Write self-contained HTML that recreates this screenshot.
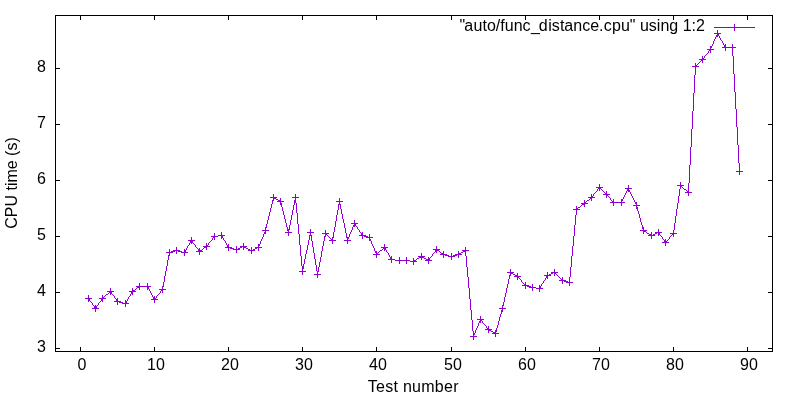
<!DOCTYPE html><html><head><meta charset="utf-8"><title>gnuplot</title><style>
html,body{margin:0;padding:0;background:#fff;}
svg{display:block;position:absolute;left:0;top:0;will-change:transform;}
text{font-family:"Liberation Sans",sans-serif;font-size:16px;fill:#000;}
</style></head><body>
<svg width="800" height="400" viewBox="0 0 800 400">
<g stroke="#000" stroke-width="1" fill="none" shape-rendering="crispEdges">
<rect x="55.5" y="15.5" width="717" height="336"/>
<line x1="80.5" y1="347" x2="80.5" y2="352"/>
<line x1="80.5" y1="15" x2="80.5" y2="20"/>
<line x1="154.5" y1="347" x2="154.5" y2="352"/>
<line x1="154.5" y1="15" x2="154.5" y2="20"/>
<line x1="228.5" y1="347" x2="228.5" y2="352"/>
<line x1="228.5" y1="15" x2="228.5" y2="20"/>
<line x1="302.5" y1="347" x2="302.5" y2="352"/>
<line x1="302.5" y1="15" x2="302.5" y2="20"/>
<line x1="376.5" y1="347" x2="376.5" y2="352"/>
<line x1="376.5" y1="15" x2="376.5" y2="20"/>
<line x1="451.5" y1="347" x2="451.5" y2="352"/>
<line x1="451.5" y1="15" x2="451.5" y2="20"/>
<line x1="525.5" y1="347" x2="525.5" y2="352"/>
<line x1="525.5" y1="15" x2="525.5" y2="20"/>
<line x1="599.5" y1="347" x2="599.5" y2="352"/>
<line x1="599.5" y1="15" x2="599.5" y2="20"/>
<line x1="673.5" y1="347" x2="673.5" y2="352"/>
<line x1="673.5" y1="15" x2="673.5" y2="20"/>
<line x1="747.5" y1="347" x2="747.5" y2="352"/>
<line x1="747.5" y1="15" x2="747.5" y2="20"/>
<line x1="55" y1="348.5" x2="60" y2="348.5"/>
<line x1="768" y1="348.5" x2="773" y2="348.5"/>
<line x1="55" y1="292.5" x2="60" y2="292.5"/>
<line x1="768" y1="292.5" x2="773" y2="292.5"/>
<line x1="55" y1="236.5" x2="60" y2="236.5"/>
<line x1="768" y1="236.5" x2="773" y2="236.5"/>
<line x1="55" y1="180.5" x2="60" y2="180.5"/>
<line x1="768" y1="180.5" x2="773" y2="180.5"/>
<line x1="55" y1="124.5" x2="60" y2="124.5"/>
<line x1="768" y1="124.5" x2="773" y2="124.5"/>
<line x1="55" y1="68.5" x2="60" y2="68.5"/>
<line x1="768" y1="68.5" x2="773" y2="68.5"/>
</g>
<text x="46" y="352" text-anchor="end">3</text>
<text x="46" y="296" text-anchor="end">4</text>
<text x="46" y="240" text-anchor="end">5</text>
<text x="46" y="184" text-anchor="end">6</text>
<text x="46" y="128" text-anchor="end">7</text>
<text x="46" y="72" text-anchor="end">8</text>
<text x="82.0" y="370" text-anchor="middle">0</text>
<text x="156.0" y="370" text-anchor="middle">10</text>
<text x="230.0" y="370" text-anchor="middle">20</text>
<text x="304.0" y="370" text-anchor="middle">30</text>
<text x="378.0" y="370" text-anchor="middle">40</text>
<text x="453.0" y="370" text-anchor="middle">50</text>
<text x="527.0" y="370" text-anchor="middle">60</text>
<text x="601.0" y="370" text-anchor="middle">70</text>
<text x="675.0" y="370" text-anchor="middle">80</text>
<text x="749.0" y="370" text-anchor="middle">90</text>
<text x="413.3" y="392" text-anchor="middle" style="letter-spacing:0.27px">Test number</text>
<text transform="translate(17,183) rotate(-90)" text-anchor="middle">CPU time (s)</text>
<text x="704.9" y="31" text-anchor="end" dx="0 -1 0.5 0 0 0 0 0 0 0 0.5 -1.2 0.5 0 0.2 0 0 0 0 0 0.3 0.2">"auto/func_distance.cpu" using 1:2</text>
<path fill="#9400d3" stroke="none" shape-rendering="crispEdges" d="M88,295h1v7h-1zM89,298h1v3h-1zM92,303h1v2h-1zM94,306h1v3h-1zM95,305h1v7h-1zM96,306h1v3h-1zM98,303h1v2h-1zM101,298h1v3h-1zM102,295h1v7h-1zM103,297h1v2h-1zM109,291h1v2h-1zM110,288h1v7h-1zM111,291h1v3h-1zM114,296h1v2h-1zM116,299h1v3h-1zM117,298h1v7h-1zM119,301h1v2h-1zM120,301h1v2h-1zM122,302h1v2h-1zM125,300h1v7h-1zM126,301h1v3h-1zM127,299h1v2h-1zM128,297h1v2h-1zM130,294h1v2h-1zM131,291h1v3h-1zM132,288h1v7h-1zM133,290h1v2h-1zM134,290h1v2h-1zM137,286h1v2h-1zM138,286h1v2h-1zM139,283h1v7h-1zM147,283h1v7h-1zM148,286h1v3h-1zM149,289h1v2h-1zM150,291h1v2h-1zM151,293h1v2h-1zM152,295h1v2h-1zM153,297h1v3h-1zM154,296h1v7h-1zM155,298h1v2h-1zM156,296h1v2h-1zM160,291h1v2h-1zM161,289h1v2h-1zM162,286h1v7h-1zM163,282h1v5h-1zM164,276h1v6h-1zM165,271h1v5h-1zM166,266h1v5h-1zM167,260h1v6h-1zM168,255h1v5h-1zM169,249h1v7h-1zM171,251h1v2h-1zM172,251h1v2h-1zM173,250h1v2h-1zM174,250h1v2h-1zM176,247h1v7h-1zM178,250h1v2h-1zM179,250h1v2h-1zM181,251h1v2h-1zM184,249h1v7h-1zM185,250h1v3h-1zM186,248h1v2h-1zM187,246h1v2h-1zM189,243h1v2h-1zM190,240h1v3h-1zM191,237h1v7h-1zM192,240h1v3h-1zM195,245h1v2h-1zM198,249h1v3h-1zM199,248h1v7h-1zM200,250h1v2h-1zM201,250h1v2h-1zM204,246h1v2h-1zM205,246h1v2h-1zM206,243h1v7h-1zM207,245h1v2h-1zM208,243h1v2h-1zM212,238h1v2h-1zM213,236h1v2h-1zM214,233h1v7h-1zM221,232h1v7h-1zM222,235h1v3h-1zM223,238h1v2h-1zM225,241h1v2h-1zM226,243h1v2h-1zM227,245h1v3h-1zM228,244h1v7h-1zM230,247h1v2h-1zM231,247h1v2h-1zM233,248h1v2h-1zM236,246h1v7h-1zM238,248h1v2h-1zM239,248h1v2h-1zM240,246h1v2h-1zM241,246h1v2h-1zM243,243h1v7h-1zM244,246h1v2h-1zM245,246h1v2h-1zM248,249h1v2h-1zM249,249h1v2h-1zM251,247h1v7h-1zM253,249h1v2h-1zM254,249h1v2h-1zM255,247h1v2h-1zM256,247h1v2h-1zM258,244h1v7h-1zM259,244h1v2h-1zM260,241h1v3h-1zM261,239h1v2h-1zM262,237h1v2h-1zM263,234h1v3h-1zM264,232h1v2h-1zM265,227h1v7h-1zM266,224h1v4h-1zM267,220h1v4h-1zM268,216h1v4h-1zM269,212h1v4h-1zM270,208h1v4h-1zM271,204h1v4h-1zM272,200h1v4h-1zM273,194h1v7h-1zM274,197h1v2h-1zM275,197h1v2h-1zM278,200h1v2h-1zM279,200h1v2h-1zM280,198h1v7h-1zM281,203h1v4h-1zM282,207h1v4h-1zM283,211h1v4h-1zM284,215h1v4h-1zM285,219h1v4h-1zM286,223h1v4h-1zM287,227h1v4h-1zM288,229h1v7h-1zM289,225h1v5h-1zM290,220h1v5h-1zM291,215h1v5h-1zM292,210h1v5h-1zM293,205h1v5h-1zM294,200h1v5h-1zM295,194h1v9h-1zM296,203h1v10h-1zM297,213h1v11h-1zM298,224h1v10h-1zM299,234h1v11h-1zM300,245h1v11h-1zM301,256h1v10h-1zM302,266h1v9h-1zM303,264h1v5h-1zM304,259h1v5h-1zM305,254h1v5h-1zM306,250h1v4h-1zM307,245h1v5h-1zM308,240h1v5h-1zM309,235h1v5h-1zM310,229h1v7h-1zM311,235h1v6h-1zM312,241h1v6h-1zM313,247h1v6h-1zM314,253h1v6h-1zM315,259h1v6h-1zM316,265h1v6h-1zM317,271h1v7h-1zM318,267h1v5h-1zM319,262h1v5h-1zM320,257h1v5h-1zM321,251h1v6h-1zM322,246h1v5h-1zM323,241h1v5h-1zM324,236h1v5h-1zM325,230h1v7h-1zM326,233h1v2h-1zM331,239h1v2h-1zM332,237h1v7h-1zM333,232h1v6h-1zM334,227h1v5h-1zM335,221h1v6h-1zM336,215h1v6h-1zM337,210h1v5h-1zM338,204h1v6h-1zM339,198h1v7h-1zM340,204h1v5h-1zM341,209h1v5h-1zM342,214h1v5h-1zM343,219h1v4h-1zM344,223h1v5h-1zM345,228h1v5h-1zM346,233h1v5h-1zM347,237h1v7h-1zM348,237h1v2h-1zM349,234h1v3h-1zM350,232h1v2h-1zM351,230h1v2h-1zM352,227h1v3h-1zM353,225h1v2h-1zM354,220h1v7h-1zM355,223h1v3h-1zM357,227h1v2h-1zM359,230h1v2h-1zM361,233h1v3h-1zM362,232h1v7h-1zM364,235h1v2h-1zM365,235h1v2h-1zM366,236h1v2h-1zM367,236h1v2h-1zM369,234h1v7h-1zM370,239h1v2h-1zM371,241h1v3h-1zM372,244h1v2h-1zM373,246h1v2h-1zM374,248h1v3h-1zM375,251h1v2h-1zM376,251h1v7h-1zM377,253h1v2h-1zM383,247h1v2h-1zM384,244h1v7h-1zM385,247h1v3h-1zM386,250h1v2h-1zM388,253h1v2h-1zM389,255h1v2h-1zM390,257h1v3h-1zM391,256h1v7h-1zM399,257h1v7h-1zM406,257h1v7h-1zM413,258h1v7h-1zM414,260h1v2h-1zM415,260h1v2h-1zM419,256h1v2h-1zM420,256h1v2h-1zM421,253h1v7h-1zM422,256h1v2h-1zM423,256h1v2h-1zM426,259h1v2h-1zM427,259h1v2h-1zM428,257h1v7h-1zM429,258h1v3h-1zM432,254h1v2h-1zM435,249h1v3h-1zM436,246h1v7h-1zM437,249h1v2h-1zM438,249h1v2h-1zM441,253h1v2h-1zM442,253h1v2h-1zM443,251h1v7h-1zM445,254h1v2h-1zM446,254h1v2h-1zM448,255h1v2h-1zM451,253h1v7h-1zM453,255h1v2h-1zM454,255h1v2h-1zM455,254h1v2h-1zM456,254h1v2h-1zM458,251h1v7h-1zM459,253h1v2h-1zM460,253h1v2h-1zM463,250h1v2h-1zM464,250h1v2h-1zM465,247h1v9h-1zM466,256h1v11h-1zM467,267h1v10h-1zM468,277h1v11h-1zM469,288h1v11h-1zM470,299h1v11h-1zM471,310h1v10h-1zM472,320h1v11h-1zM473,331h1v9h-1zM474,333h1v2h-1zM475,330h1v3h-1zM476,328h1v2h-1zM477,326h1v2h-1zM478,323h1v3h-1zM479,321h1v2h-1zM480,316h1v7h-1zM481,319h1v2h-1zM482,321h1v2h-1zM486,326h1v2h-1zM487,328h1v2h-1zM488,326h1v7h-1zM489,329h1v2h-1zM490,329h1v2h-1zM493,332h1v2h-1zM494,332h1v2h-1zM495,330h1v7h-1zM496,328h1v4h-1zM497,325h1v3h-1zM498,321h1v4h-1zM499,317h1v4h-1zM500,314h1v3h-1zM501,310h1v4h-1zM502,305h1v7h-1zM503,302h1v4h-1zM504,297h1v5h-1zM505,293h1v4h-1zM506,288h1v5h-1zM507,284h1v4h-1zM508,279h1v5h-1zM509,275h1v4h-1zM510,269h1v7h-1zM511,272h1v2h-1zM512,272h1v2h-1zM515,275h1v2h-1zM516,275h1v2h-1zM517,273h1v7h-1zM518,276h1v2h-1zM521,280h1v2h-1zM524,284h1v2h-1zM525,282h1v7h-1zM527,285h1v2h-1zM528,285h1v2h-1zM529,286h1v2h-1zM530,286h1v2h-1zM532,284h1v7h-1zM539,285h1v7h-1zM540,286h1v3h-1zM541,284h1v2h-1zM543,281h1v2h-1zM545,278h1v2h-1zM546,275h1v3h-1zM547,272h1v7h-1zM549,274h1v2h-1zM550,274h1v2h-1zM551,272h1v2h-1zM552,272h1v2h-1zM554,269h1v7h-1zM555,272h1v2h-1zM561,279h1v2h-1zM562,277h1v7h-1zM564,280h1v2h-1zM565,280h1v2h-1zM566,281h1v2h-1zM567,281h1v2h-1zM569,277h1v9h-1zM570,267h1v10h-1zM571,256h1v11h-1zM572,246h1v10h-1zM573,236h1v10h-1zM574,225h1v11h-1zM575,215h1v10h-1zM576,206h1v9h-1zM577,208h1v2h-1zM582,203h1v2h-1zM583,203h1v2h-1zM584,200h1v7h-1zM585,202h1v2h-1zM590,197h1v2h-1zM591,194h1v7h-1zM592,196h1v2h-1zM593,194h1v2h-1zM597,189h1v2h-1zM598,187h1v2h-1zM599,184h1v7h-1zM600,187h1v2h-1zM605,193h1v2h-1zM606,191h1v7h-1zM607,194h1v2h-1zM610,198h1v2h-1zM612,201h1v2h-1zM613,199h1v7h-1zM621,199h1v7h-1zM622,199h1v2h-1zM623,197h1v2h-1zM624,195h1v2h-1zM625,193h1v2h-1zM626,191h1v2h-1zM627,188h1v3h-1zM628,185h1v7h-1zM629,190h1v2h-1zM630,192h1v2h-1zM631,194h1v2h-1zM632,196h1v2h-1zM633,198h1v2h-1zM634,200h1v2h-1zM635,202h1v2h-1zM636,202h1v7h-1zM637,207h1v4h-1zM638,211h1v3h-1zM639,214h1v4h-1zM640,218h1v4h-1zM641,222h1v3h-1zM642,225h1v4h-1zM643,227h1v7h-1zM644,230h1v2h-1zM645,230h1v2h-1zM649,234h1v2h-1zM650,234h1v2h-1zM651,232h1v7h-1zM653,234h1v2h-1zM654,234h1v2h-1zM655,232h1v2h-1zM656,232h1v2h-1zM658,229h1v7h-1zM659,232h1v3h-1zM662,237h1v2h-1zM664,240h1v3h-1zM665,239h1v7h-1zM666,241h1v2h-1zM669,237h1v2h-1zM672,233h1v2h-1zM673,230h1v7h-1zM674,223h1v7h-1zM675,216h1v7h-1zM676,209h1v7h-1zM677,203h1v6h-1zM678,196h1v7h-1zM679,189h1v7h-1zM680,182h1v7h-1zM681,185h1v2h-1zM687,191h1v2h-1zM688,183h1v13h-1zM689,165h1v18h-1zM690,147h1v18h-1zM691,129h1v18h-1zM692,111h1v18h-1zM693,93h1v18h-1zM694,75h1v18h-1zM695,63h1v12h-1zM696,65h1v2h-1zM701,59h1v2h-1zM702,56h1v7h-1zM703,58h1v2h-1zM704,56h1v2h-1zM708,51h1v2h-1zM709,49h1v2h-1zM710,46h1v7h-1zM711,46h1v2h-1zM712,44h1v2h-1zM713,41h1v3h-1zM714,39h1v2h-1zM715,37h1v2h-1zM716,35h1v2h-1zM717,30h1v7h-1zM718,33h1v3h-1zM719,36h1v2h-1zM720,38h1v2h-1zM722,41h1v2h-1zM723,43h1v2h-1zM724,45h1v3h-1zM725,44h1v7h-1zM732,44h1v12h-1zM733,56h1v18h-1zM734,24h1v7h-1zM734,74h1v18h-1zM735,92h1v17h-1zM736,109h1v18h-1zM737,127h1v18h-1zM738,145h1v18h-1zM739,163h1v12h-1zM714,27h20v1h-20zM735,27h20v1h-20zM714,33h3v1h-3zM719,33h2v1h-2zM721,40h1v1h-1zM722,47h2v1h-2zM726,47h6v1h-6zM733,47h3v1h-3zM707,49h2v1h-2zM711,49h3v1h-3zM707,53h1v1h-1zM706,54h1v1h-1zM705,55h1v1h-1zM699,59h2v1h-2zM704,59h2v1h-2zM700,61h1v1h-1zM699,62h1v1h-1zM698,63h1v1h-1zM697,64h1v1h-1zM692,66h3v1h-3zM697,66h2v1h-2zM736,171h3v1h-3zM740,171h3v1h-3zM677,185h3v1h-3zM682,185h2v1h-2zM596,187h2v1h-2zM601,187h2v1h-2zM682,187h1v1h-1zM625,188h2v1h-2zM629,188h3v1h-3zM683,188h1v1h-1zM601,189h1v1h-1zM684,189h2v1h-2zM602,190h1v1h-1zM686,190h1v1h-1zM596,191h1v1h-1zM603,191h1v1h-1zM595,192h1v1h-1zM604,192h1v1h-1zM685,192h2v1h-2zM689,192h3v1h-3zM594,193h1v1h-1zM603,194h2v1h-2zM608,194h2v1h-2zM608,196h1v1h-1zM270,197h3v1h-3zM276,197h1v1h-1zM292,197h3v1h-3zM296,197h3v1h-3zM588,197h2v1h-2zM593,197h2v1h-2zM609,197h1v1h-1zM276,199h2v1h-2zM589,199h1v1h-1zM587,200h2v1h-2zM611,200h1v1h-1zM277,201h1v1h-1zM281,201h3v1h-3zM336,201h3v1h-3zM340,201h3v1h-3zM586,201h1v1h-1zM610,202h2v1h-2zM614,202h7v1h-7zM622,202h3v1h-3zM581,203h1v1h-1zM586,203h2v1h-2zM581,205h1v1h-1zM633,205h3v1h-3zM637,205h3v1h-3zM580,206h1v1h-1zM578,207h2v1h-2zM573,209h3v1h-3zM578,209h2v1h-2zM351,223h3v1h-3zM356,223h2v1h-2zM356,226h1v1h-1zM358,229h1v1h-1zM262,230h3v1h-3zM266,230h3v1h-3zM640,230h3v1h-3zM646,230h1v1h-1zM285,232h3v1h-3zM289,232h3v1h-3zM307,232h3v1h-3zM311,232h3v1h-3zM360,232h1v1h-1zM646,232h1v1h-1zM657,232h1v1h-1zM660,232h2v1h-2zM322,233h3v1h-3zM327,233h2v1h-2zM647,233h2v1h-2zM670,233h2v1h-2zM674,233h3v1h-3zM218,235h3v1h-3zM223,235h2v1h-2zM327,235h1v1h-1zM359,235h2v1h-2zM363,235h1v1h-1zM648,235h1v1h-1zM652,235h1v1h-1zM660,235h1v1h-1zM671,235h1v1h-1zM211,236h2v1h-2zM215,236h3v1h-3zM328,236h1v1h-1zM661,236h1v1h-1zM670,236h1v1h-1zM329,237h1v1h-1zM368,237h1v1h-1zM370,237h3v1h-3zM330,238h1v1h-1zM663,239h1v1h-1zM668,239h1v1h-1zM188,240h2v1h-2zM193,240h2v1h-2zM211,240h1v1h-1zM224,240h1v1h-1zM329,240h2v1h-2zM333,240h3v1h-3zM344,240h3v1h-3zM348,240h3v1h-3zM667,240h1v1h-1zM210,241h1v1h-1zM209,242h1v1h-1zM662,242h2v1h-2zM667,242h2v1h-2zM193,243h1v1h-1zM194,244h1v1h-1zM188,245h1v1h-1zM203,246h1v1h-1zM208,246h2v1h-2zM242,246h1v1h-1zM246,246h1v1h-1zM196,247h1v1h-1zM225,247h2v1h-2zM229,247h1v1h-1zM257,247h1v1h-1zM259,247h3v1h-3zM381,247h2v1h-2zM386,247h2v1h-2zM197,248h1v1h-1zM203,248h1v1h-1zM232,248h1v1h-1zM246,248h2v1h-2zM202,249h1v1h-1zM234,249h2v1h-2zM237,249h1v1h-1zM382,249h1v1h-1zM433,249h2v1h-2zM439,249h1v1h-1zM175,250h1v1h-1zM177,250h1v1h-1zM250,250h1v1h-1zM252,250h1v1h-1zM380,250h2v1h-2zM462,250h1v1h-1zM466,250h3v1h-3zM180,251h1v1h-1zM196,251h2v1h-2zM202,251h1v1h-1zM379,251h1v1h-1zM439,251h1v1h-1zM166,252h3v1h-3zM170,252h1v1h-1zM182,252h2v1h-2zM186,252h2v1h-2zM378,252h1v1h-1zM387,252h1v1h-1zM434,252h1v1h-1zM440,252h1v1h-1zM461,252h2v1h-2zM433,253h1v1h-1zM373,254h3v1h-3zM378,254h2v1h-2zM440,254h1v1h-1zM444,254h1v1h-1zM457,254h1v1h-1zM461,254h1v1h-1zM447,255h1v1h-1zM418,256h1v1h-1zM424,256h1v1h-1zM431,256h1v1h-1zM449,256h2v1h-2zM452,256h1v1h-1zM430,257h1v1h-1zM417,258h2v1h-2zM424,258h2v1h-2zM388,259h2v1h-2zM392,259h3v1h-3zM416,259h1v1h-1zM395,260h4v1h-4zM400,260h6v1h-6zM407,260h3v1h-3zM425,260h1v1h-1zM430,260h2v1h-2zM410,261h3v1h-3zM416,261h1v1h-1zM299,271h3v1h-3zM303,271h3v1h-3zM507,272h3v1h-3zM513,272h1v1h-1zM553,272h1v1h-1zM556,272h2v1h-2zM314,274h3v1h-3zM318,274h3v1h-3zM513,274h2v1h-2zM556,274h1v1h-1zM544,275h2v1h-2zM548,275h1v1h-1zM557,275h1v1h-1zM514,276h1v1h-1zM519,276h2v1h-2zM558,276h1v1h-1zM559,277h1v1h-1zM519,278h1v1h-1zM560,278h1v1h-1zM520,279h1v1h-1zM544,280h1v1h-1zM559,280h2v1h-2zM563,280h1v1h-1zM522,282h1v1h-1zM568,282h1v1h-1zM570,282h3v1h-3zM523,283h1v1h-1zM542,283h1v1h-1zM522,285h2v1h-2zM526,285h1v1h-1zM136,286h1v1h-1zM140,286h7v1h-7zM149,286h2v1h-2zM531,287h1v1h-1zM533,287h3v1h-3zM136,288h1v1h-1zM536,288h3v1h-3zM541,288h2v1h-2zM135,289h1v1h-1zM159,289h2v1h-2zM163,289h3v1h-3zM107,291h2v1h-2zM112,291h2v1h-2zM129,291h2v1h-2zM135,291h1v1h-1zM108,293h1v1h-1zM159,293h1v1h-1zM106,294h2v1h-2zM112,294h1v1h-1zM158,294h1v1h-1zM105,295h1v1h-1zM113,295h1v1h-1zM157,295h1v1h-1zM104,296h1v1h-1zM129,296h1v1h-1zM85,298h3v1h-3zM90,298h2v1h-2zM99,298h2v1h-2zM104,298h2v1h-2zM115,298h1v1h-1zM151,299h2v1h-2zM156,299h2v1h-2zM90,301h1v1h-1zM100,301h1v1h-1zM114,301h2v1h-2zM118,301h1v1h-1zM91,302h1v1h-1zM99,302h1v1h-1zM121,302h1v1h-1zM123,303h2v1h-2zM127,303h2v1h-2zM93,305h1v1h-1zM97,305h1v1h-1zM92,308h2v1h-2zM97,308h2v1h-2zM499,308h3v1h-3zM503,308h3v1h-3zM477,319h3v1h-3zM482,319h2v1h-2zM483,323h1v1h-1zM484,324h1v1h-1zM485,325h1v1h-1zM485,329h2v1h-2zM491,329h1v1h-1zM491,331h2v1h-2zM492,333h1v1h-1zM496,333h3v1h-3zM470,336h3v1h-3zM474,336h3v1h-3z"/>
</svg></body></html>
